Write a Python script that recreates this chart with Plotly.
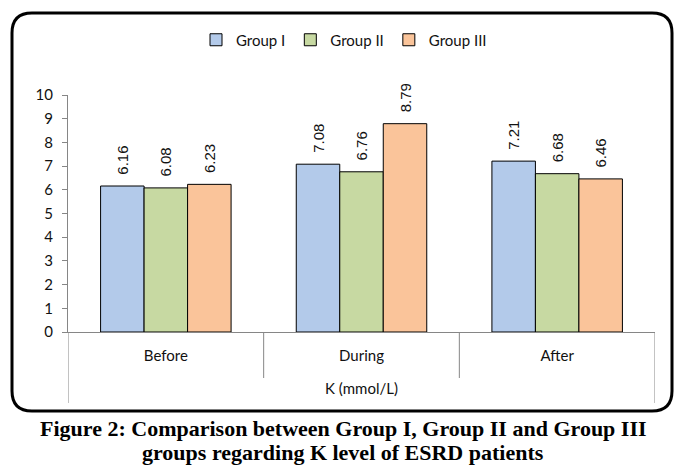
import plotly.graph_objects as go

categories = ["Before", "During", "After"]
group_names = ["Group I", "Group II", "Group III"]
group1 = [6.16, 7.08, 7.21]
group2 = [6.08, 6.76, 6.68]
group3 = [6.23, 8.79, 6.46]
colors = ["#B3CAEA", "#C7D9A2", "#FAC49A"]
y_ticks = list(range(0, 11))
x_title = "K (mmol/L)"
caption_lines = ["<b>Figure 2: Comparison between Group I, Group II and Group III</b>",
                 "<b>groups regarding K level of ESRD patients</b>"]

W, H = 683, 471
L, R, T, B = 68, 28, 95, 139
PW = W - L - R
PH = H - T - B


def px(x):
    return (x - L) / PW


def py(y):
    return (H - B - y) / PH


fig = go.Figure()
for name, vals, col in zip(group_names, [group1, group2, group3], colors):
    fig.add_trace(go.Bar(
        x=categories, y=vals, name=name,
        marker=dict(color=col, line=dict(color="#000000", width=1)),
        text=vals,
        texttemplate="\u00a0\u00a0%{text:.2f}",
        textposition="outside", textangle=-90,
        textfont=dict(family="Liberation Sans", size=15, color="#111111"),
        cliponaxis=False,
    ))

# rounded frame
x0, x1, y0, y1, r = 12, 672, 13, 411, 20
path = (
    f"M {px(x0 + r)} {py(y0)} L {px(x1 - r)} {py(y0)} "
    f"Q {px(x1)} {py(y0)} {px(x1)} {py(y0 + r)} "
    f"L {px(x1)} {py(y1 - r)} Q {px(x1)} {py(y1)} {px(x1 - r)} {py(y1)} "
    f"L {px(x0 + r)} {py(y1)} Q {px(x0)} {py(y1)} {px(x0)} {py(y1 - r)} "
    f"L {px(x0)} {py(y0 + r)} Q {px(x0)} {py(y0)} {px(x0 + r)} {py(y0)} Z"
)
shapes = [dict(type="path", path=path, xref="paper", yref="paper",
               line=dict(color="#000000", width=3), layer="below")]
# category dividers
for i in range(len(categories) + 1):
    outer = i == 0 or i == len(categories)
    shapes.append(dict(type="line", xref="x", yref="paper",
                       x0=i - 0.5, x1=i - 0.5, y0=0,
                       y1=py(403) if outer else py(378),
                       line=dict(color="#868686", width=1)))

annotations = []
for line, yc in zip(caption_lines, [428, 452]):
    annotations.append(dict(text=line, xref="paper", yref="paper",
                            x=px(343), y=py(yc), xanchor="center", yanchor="middle",
                            showarrow=False,
                            font=dict(family="Liberation Serif", size=22, color="#000000")))

fig.update_layout(
    width=W, height=H,
    margin=dict(l=L, r=R, t=T, b=B, autoexpand=False),
    paper_bgcolor="white", plot_bgcolor="white",
    barmode="group", bargap=0.333, bargroupgap=0,
    font=dict(family="Lato", size=15, color="#111111"),
    legend=dict(orientation="h", x=px(344), xanchor="center",
                y=py(40), yanchor="middle",
                font=dict(family="Lato", size=15, color="#111111"),
                itemwidth=30, tracegroupgap=0),
    shapes=shapes,
    annotations=annotations,
    showlegend=True,
)
fig.update_yaxes(range=[0, 10], tickvals=y_ticks, showline=True, linecolor="#868686",
                 linewidth=1, ticks="outside", ticklen=5, tickcolor="#868686",
                 showgrid=False, zeroline=False, ticklabelstandoff=6,
                 tickfont=dict(family="Lato", size=15, color="#111111"))
fig.update_xaxes(range=[-0.5, 2.5], showline=True, linecolor="#868686", linewidth=1,
                 ticks="", showgrid=False, ticklabelstandoff=10,
                 tickfont=dict(family="Lato", size=15, color="#111111"),
                 title=dict(text=x_title, standoff=20,
                            font=dict(family="Lato", size=15, color="#111111")))

fig.write_html("out.html", post_script="document.body.style.margin='0px';",
               config={"displayModeBar": False})
